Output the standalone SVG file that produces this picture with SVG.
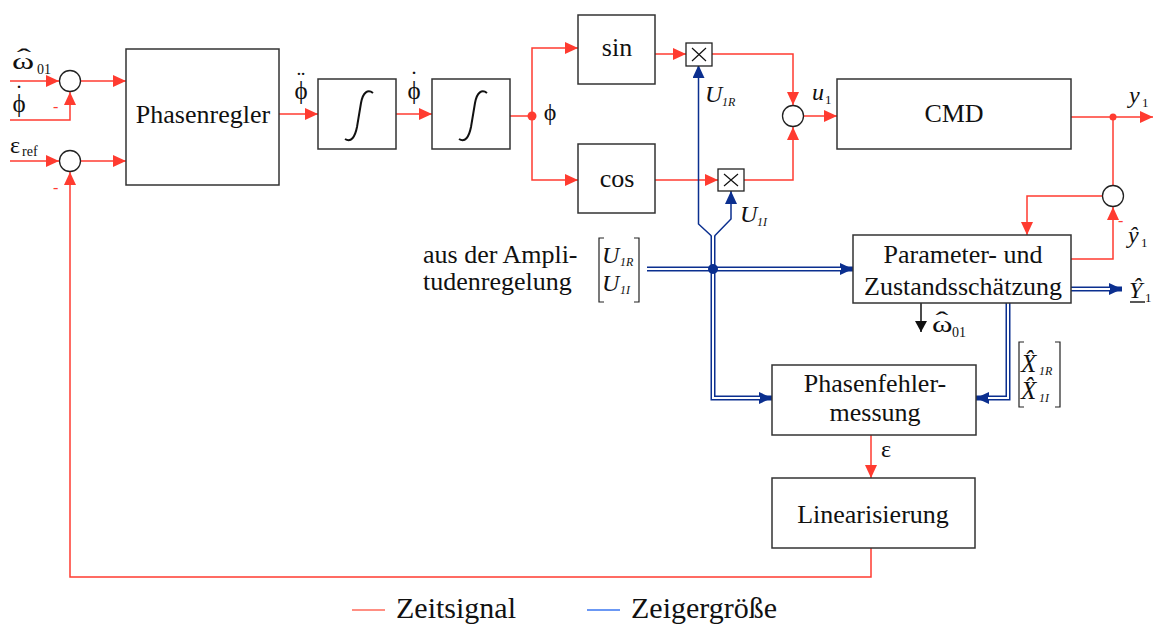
<svg xmlns="http://www.w3.org/2000/svg" width="1154" height="624" viewBox="0 0 1154 624" font-family="'Liberation Serif', 'Times New Roman', Times, 'DejaVu Serif', serif">
<style>
.box{fill:#fff;stroke:#333;stroke-width:1.5}
.sum{fill:#fff;stroke:#222;stroke-width:1.3}
.r{fill:none;stroke:#ff3b30;stroke-width:1.5}
.bo{fill:none;stroke:#0b2f8f;stroke-width:5}
.bi{fill:none;stroke:#fff;stroke-width:2}
.bs{fill:none;stroke:#0b2f8f;stroke-width:1.5}
.t{fill:#111}
.it{font-style:italic;fill:#111}
.m{text-anchor:middle}
.minus{fill:#ff3b30;font-size:16px}
.br{fill:none;stroke:#222;stroke-width:1.2}
</style>
<defs>
<marker id="ar" markerUnits="userSpaceOnUse" markerWidth="14" markerHeight="12" refX="13" refY="6" orient="auto"><path d="M0,0 L13,6 L0,12 Z" fill="#ff3b30"/></marker>
<marker id="ab" markerUnits="userSpaceOnUse" markerWidth="14" markerHeight="12" refX="13" refY="6" orient="auto"><path d="M0,0 L13,6 L0,12 Z" fill="#0b2f8f"/></marker>
<marker id="ak" markerUnits="userSpaceOnUse" markerWidth="12" markerHeight="12" refX="11" refY="6" orient="auto"><path d="M0,0 L11,6 L0,12 Z" fill="#111"/></marker>
</defs>

<g id="connectors">
<path class="r" d="M10,81 H59" marker-end="url(#ar)"/>
<path class="r" d="M10,120 H70 V92" marker-end="url(#ar)"/>
<path class="r" d="M80,81 H126" marker-end="url(#ar)"/>
<path class="r" d="M10,161 H59" marker-end="url(#ar)"/>
<path class="r" d="M80,161 H126" marker-end="url(#ar)"/>
<path class="r" d="M871,548 V577 H70 V172" marker-end="url(#ar)"/>
<path class="r" d="M279,114 H318" marker-end="url(#ar)"/>
<path class="r" d="M396,114 H432" marker-end="url(#ar)"/>
<path class="r" d="M510,116 H532"/>
<path class="r" d="M532,116 V48 H578" marker-end="url(#ar)"/>
<path class="r" d="M532,116 V180 H578" marker-end="url(#ar)"/>
<circle cx="532" cy="116" r="4.5" fill="#ff3b30"/>
<path class="r" d="M655,54 H686" marker-end="url(#ar)"/>
<path class="r" d="M655,180 H718" marker-end="url(#ar)"/>
<path class="r" d="M712,54 H793 V105" marker-end="url(#ar)"/>
<path class="r" d="M744,180 H793 V127" marker-end="url(#ar)"/>
<path class="r" d="M804,116 H837" marker-end="url(#ar)"/>
<path class="r" d="M1071,117 H1153" marker-end="url(#ar)"/>
<circle cx="1113" cy="117" r="3.5" fill="#ff3b30"/>
<path class="r" d="M1113,117 V186"/>
<path class="r" d="M1103,196 H1027 V235" marker-end="url(#ar)"/>
<path class="r" d="M1071,259 H1113 V207" marker-end="url(#ar)"/>
<path class="r" d="M871,435 V478" marker-end="url(#ar)"/>
<path d="M921,303 V332" fill="none" stroke="#111" stroke-width="1.5" marker-end="url(#ak)"/>

<path class="bs" d="M711.5,236 L698.5,224 V65" marker-end="url(#ab)"/>
<path class="bs" d="M714.5,236 L731,219 V191" marker-end="url(#ab)"/>
<path class="bo" d="M647,269 H853" marker-end="url(#ab)"/>
<path class="bi" d="M647,269 H841"/>
<path class="bo" d="M713,236 V398 H772" marker-end="url(#ab)"/>
<path class="bi" d="M713,236 V398 H760"/>
<path class="bo" d="M1008,303 V398 H976" marker-end="url(#ab)"/>
<path class="bi" d="M1008,303 V398 H988"/>
<path class="bo" d="M1071,289 H1122" marker-end="url(#ab)"/>
<path class="bi" d="M1071,289 H1110"/>
<circle cx="713" cy="269" r="5" fill="#0b2f8f"/>
</g>

<g id="sum1"><circle class="sum" cx="70" cy="81" r="10.5"/></g>
<g id="sum2"><circle class="sum" cx="70" cy="161" r="10.5"/></g>
<g id="sum3"><circle class="sum" cx="793" cy="116" r="10.5"/></g>
<g id="sum4"><circle class="sum" cx="1113" cy="196" r="10.5"/></g>

<g id="phasenregler"><rect class="box" x="126" y="49" width="153" height="136"/><text class="t m" x="203" y="123" font-size="26">Phasenregler</text></g>
<g id="int1"><rect class="box" x="318" y="79" width="78" height="70"/><path d="M345,139 C351,143 355,137 357,127 L361,103 C363,92 368,89 373,93" fill="none" stroke="#111" stroke-width="2"/></g>
<g id="int2"><rect class="box" x="432" y="79" width="78" height="70"/><path d="M459,139 C465,143 469,137 471,127 L475,103 C477,92 482,89 487,93" fill="none" stroke="#111" stroke-width="2"/></g>
<g id="sin"><rect class="box" x="578" y="15" width="77" height="69"/><text class="t m" x="617" y="56" font-size="26">sin</text></g>
<g id="cos"><rect class="box" x="578" y="144" width="77" height="69"/><text class="t m" x="617" y="187" font-size="26">cos</text></g>
<g id="mult1"><rect x="686" y="43" width="26" height="23" fill="#fff" stroke="#222" stroke-width="1.3"/><path d="M692,48 L706,61 M706,48 L692,61" stroke="#111" stroke-width="1.2"/></g>
<g id="mult2"><rect x="718" y="169" width="26" height="22" fill="#fff" stroke="#222" stroke-width="1.3"/><path d="M724,174 L738,186 M738,174 L724,186" stroke="#111" stroke-width="1.2"/></g>
<g id="cmd"><rect class="box" x="837" y="79" width="234" height="70"/><text class="t m" x="954" y="122" font-size="26">CMD</text></g>
<g id="schaetzung"><rect class="box" x="853" y="235" width="218" height="68"/><text class="t m" x="963" y="263" font-size="26">Parameter- und</text><text class="t m" x="963" y="295" font-size="26">Zustandsschätzung</text></g>
<g id="phasenfehler"><rect class="box" x="772" y="365" width="204" height="70"/><text class="t m" x="875" y="392" font-size="26">Phasenfehler-</text><text class="t m" x="875" y="421" font-size="26">messung</text></g>
<g id="linearisierung"><rect class="box" x="772" y="478" width="203" height="70"/><text class="t m" x="873" y="523" font-size="26">Linearisierung</text></g>

<g id="labels">
<text class="t" x="12" y="69" font-size="24" transform="translate(12,0) scale(1.4,1) translate(-12,0)">ω</text>
<text class="t m" x="24" y="65" font-size="24" transform="translate(24,0) scale(1.8,1) translate(-24,0)">ˆ</text>
<text class="t" x="37" y="74" font-size="14">01</text>
<text class="t m" x="19" y="112" font-size="25">ϕ</text>
<text class="t m" x="19" y="101" font-size="24">˙</text>
<text class="t" x="10" y="153" font-size="24">ε</text>
<text class="t" x="22" y="156" font-size="14">ref</text>
<text class="minus" x="53" y="112">-</text>
<text class="minus" x="53" y="193">-</text>
<text class="minus" x="1118" y="226">-</text>
<text class="t m" x="301" y="99" font-size="25">ϕ</text>
<text class="t m" x="301" y="87" font-size="24">¨</text>
<text class="t m" x="414" y="99" font-size="25">ϕ</text>
<text class="t m" x="414" y="87" font-size="24">˙</text>
<text class="t m" x="550" y="120" font-size="24">ϕ</text>
<text class="it" x="705" y="102" font-size="24">U</text><text class="it" x="722" y="106" font-size="12">1R</text>
<text class="it" x="740" y="222" font-size="24">U</text><text class="it" x="757" y="226" font-size="12">1I</text>
<text class="it" x="812" y="100" font-size="24">u</text><text class="t" x="825" y="104" font-size="13">1</text>
<text class="it" x="1129" y="103" font-size="24">y</text><text class="t" x="1142" y="107" font-size="13">1</text>
<text class="it" x="1128" y="243" font-size="24">ŷ</text><text class="t" x="1141" y="247" font-size="13">1</text>
<text class="it" x="1129" y="298" font-size="24">Ŷ</text><text class="t" x="1145" y="302" font-size="13">1</text>
<path d="M1130,302 H1145" stroke="#111" stroke-width="1.4"/>
<text class="t" x="932" y="332" font-size="24" transform="translate(932,0) scale(1.3,1) translate(-932,0)">ω</text>
<text class="t m" x="942" y="328" font-size="24" transform="translate(942,0) scale(1.6,1) translate(-942,0)">ˆ</text>
<text class="t" x="952" y="337" font-size="14">01</text>
<text class="t" x="881" y="457" font-size="24">ε</text>
<text class="t" x="423" y="263" font-size="26">aus der Ampli-</text>
<text class="t" x="423" y="290" font-size="26">tudenregelung</text>
<path class="br" d="M604,238 H599 V302 H604 M634,238 H639 V302 H634"/>
<text class="it" x="602" y="263" font-size="24">U</text><text class="it" x="620" y="266" font-size="12">1R</text>
<text class="it" x="602" y="291" font-size="24">U</text><text class="it" x="620" y="294" font-size="12">1I</text>
<path class="br" d="M1024,342 H1019 V407 H1024 M1055,342 H1060 V407 H1055"/>
<text class="it" x="1021" y="372" font-size="25">X̂</text><text class="it" x="1039" y="375" font-size="12">1R</text>
<text class="it" x="1021" y="399" font-size="25">X̂</text><text class="it" x="1039" y="402" font-size="12">1I</text>
</g>

<g id="legend">
<path d="M352,610 H385" stroke="#ff6a5a" stroke-width="1.5"/>
<text class="t" x="396" y="618" font-size="30">Zeitsignal</text>
<path d="M587,610 H620" stroke="#3a76f0" stroke-width="1.5"/>
<text class="t" x="631" y="618" font-size="30">Zeigergröße</text>
</g>
</svg>
